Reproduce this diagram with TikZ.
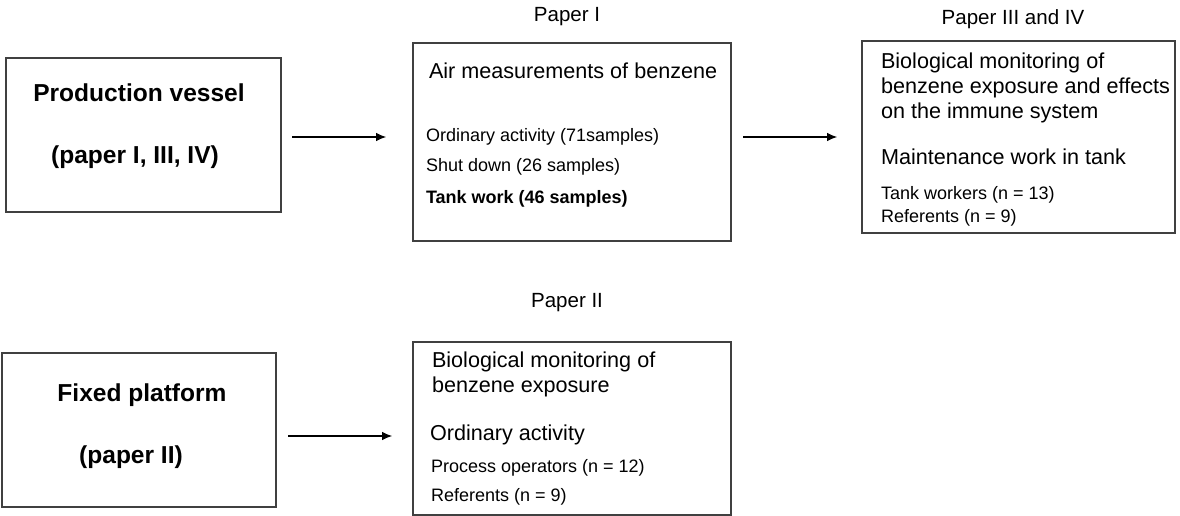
\documentclass[tikz,border=0pt]{standalone}
\usepackage{fontspec}
\setmainfont{Liberation Sans}
\usetikzlibrary{arrows.meta}

\begin{document}
\begin{tikzpicture}[x=0.75pt,y=-0.75pt,inner sep=0pt,outer sep=0pt,
>={Latex[length=7.5pt,width=6.5pt]},
sysblock/.style={draw=black!75,rectangle,line width=1.1pt},
papertag/.style={font=\fontsize{15.4}{18}\selectfont},
sitetxt/.style={font=\fontsize{18.4}{22}\selectfont\bfseries},
headtxt/.style={anchor=west,align=left,font=\fontsize{16.2}{18.5}\selectfont},
smalltxt/.style={anchor=west,font=\fontsize{13.5}{16}\selectfont},
link/.style={->,line width=0.8pt}]

\useasboundingbox (0,0) rectangle (1180,516);

% sites
\draw (143.5,135) node[sysblock,minimum width=206.25pt,minimum height=115.5pt] (prod) {};
\draw (139,430) node[sysblock,minimum width=205.5pt,minimum height=115.5pt] (platform) {};
\draw (139,93) node[sitetxt] (prodname) {Production vessel};
\draw (135,157) node[sitetxt] (prodref) {(paper I, III, IV)};
\draw (142,395) node[sitetxt] (platname) {Fixed platform};
\draw (131,457) node[sitetxt] (platref) {(paper II)};

% papers
\draw (572,142) node[sysblock,minimum width=238.5pt,minimum height=148.5pt] (paper1) {};
\draw (1018.5,137) node[sysblock,minimum width=234.75pt,minimum height=144pt] (paper34) {};
\draw (572,428.5) node[sysblock,minimum width=238.5pt,minimum height=129.75pt] (paper2) {};
\draw (567,17) node[papertag] (tag1) {Paper I};
\draw (1013,19) node[papertag] (tag34) {Paper III and IV};
\draw (567,303) node[papertag] (tag2) {Paper II};

% paper I
\draw (429,71) node[headtxt] (air) {Air measurements of benzene};
\draw (426,137) node[smalltxt] (ordin) {Ordinary activity (71samples)};
\draw (426,167) node[smalltxt] (shut) {Shut down (26 samples)};
\draw (426,199) node[smalltxt,font=\fontsize{13.5}{16}\selectfont\bfseries] (tank) {Tank work (46 samples)};

% paper III and IV
\draw (881,88) node[headtxt] (bio34) {Biological monitoring of\\benzene exposure and effects\\on the immune system};
\draw (881,157) node[headtxt] (maint) {Maintenance work in tank};
\draw (881,195) node[smalltxt] (tankw) {Tank workers (n = 13)};
\draw (881,218) node[smalltxt] (ref34) {Referents (n = 9)};

% paper II
\draw (432,374.5) node[headtxt] (bio2) {Biological monitoring of\\benzene exposure};
\draw (430,435) node[headtxt] (ordin2) {Ordinary activity};
\draw (431,468) node[smalltxt] (procop) {Process operators (n = 12)};
\draw (431,497) node[smalltxt] (ref2) {Referents (n = 9)};

\coordinate (a1) at ([yshift=-1.5pt]prod.east);
\coordinate (a3) at ([yshift=-4.5pt]platform.east);
\draw[link,shorten <=8.25pt,shorten >=20.25pt] (a1) -- (a1 -| paper1.west);
\draw[link,shorten <=9pt,shorten >=18.75pt] (paper1.east |- paper34.west) -- (paper34.west);
\draw[link,shorten <=9pt,shorten >=15.75pt] (a3) -- (a3 -| paper2.west);
\end{tikzpicture}
\end{document}
